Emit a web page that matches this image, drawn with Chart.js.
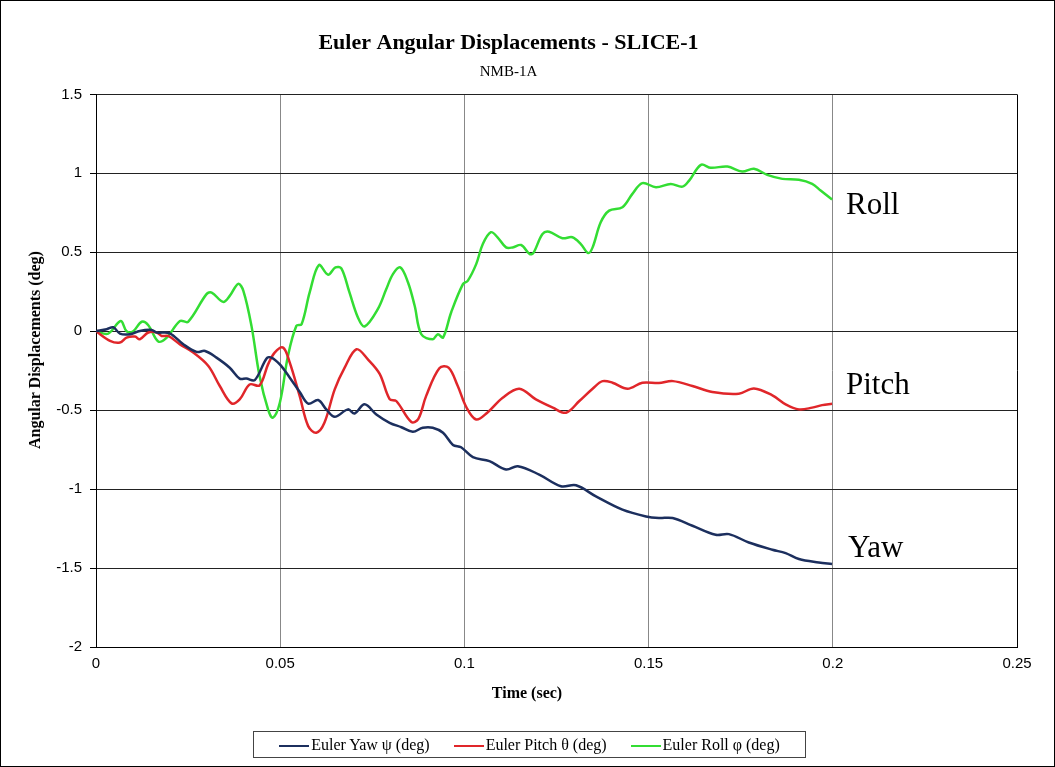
<!DOCTYPE html>
<html>
<head>
<meta charset="utf-8">
<script src="https://cdn.jsdelivr.net/npm/chart.js@4.4.1/dist/chart.umd.min.js"></script>
<style>
  body { margin: 0; background: #fff; }
  #wrap { position: relative; width: 1055px; height: 767px; }
  #frame { position: absolute; left: 0; top: 0; width: 1053px; height: 765px; border: 1px solid #000; pointer-events: none; }
  .tag { position: absolute; font-family: "Liberation Serif", "Times New Roman", serif; font-size: 31px; line-height: 31px; color: #000; }
  .axt { position: absolute; font-family: "Liberation Serif", "Times New Roman", serif; font-weight: bold; font-size: 16px; line-height: 18px; color: #000; white-space: nowrap; }
  #legend { position: absolute; left: 253px; top: 731px; width: 551px; height: 25px; border: 1px solid #444;
            display: flex; justify-content: center; align-items: center; gap: 24px;
            font-family: "Liberation Serif", "Times New Roman", serif; font-size: 16px; }
  #legend span.ln { display: inline-block; width: 30px; height: 2px; vertical-align: middle; margin-right: 2px; }
</style>
</head>
<body>
<div id="wrap">
  <canvas id="myChart" width="1055" height="767"></canvas>
  <div class="tag" style="left:846px; top:188px;">Roll</div>
  <div class="tag" style="left:846px; top:368px;">Pitch</div>
  <div class="tag" style="left:848px; top:531px;">Yaw</div>
  <div class="axt" style="left:527px; top:684px; transform:translateX(-50%);">Time (sec)</div>
  <div class="axt" style="left:35px; top:350px; transform:translate(-50%,-50%) rotate(-90deg);">Angular Displacements (deg)</div>
  <div id="legend"></div>
  <div id="frame"></div>
</div>
<script>
// valores (tempo em s, deslocamento em graus)
const yawT = [0, 0.0029, 0.0047, 0.0065, 0.0092, 0.0119, 0.0151, 0.0165, 0.02, 0.0237, 0.0273, 0.0296, 0.0327, 0.0363,
  0.039, 0.0408, 0.0431, 0.0463, 0.0476, 0.0499, 0.0526, 0.0553, 0.0576, 0.0603, 0.0625, 0.0648, 0.0684, 0.0702, 0.0729,
  0.0761, 0.0797, 0.0829, 0.086, 0.0887, 0.0914, 0.0942, 0.0969, 0.0991, 0.1023, 0.1068, 0.1113, 0.1145, 0.1203, 0.1262,
  0.1303, 0.1357, 0.1429, 0.1493, 0.1528, 0.1565, 0.1619, 0.1682, 0.1718, 0.1772, 0.1836, 0.1872, 0.1908, 0.1962, 0.1998];
const yawV = [0, 0.013, 0.025, -0.015, -0.019, 0.002, 0.008, -0.008, -0.013, -0.083, -0.131, -0.125, -0.167, -0.231,
  -0.30, -0.30, -0.309, -0.173, -0.167, -0.21, -0.294, -0.385, -0.459, -0.436, -0.495, -0.542, -0.495, -0.521, -0.463,
  -0.527, -0.58, -0.608, -0.637, -0.611, -0.611, -0.643, -0.72, -0.735, -0.797, -0.823, -0.876, -0.855, -0.908, -0.982,
  -0.976, -1.046, -1.13, -1.173, -1.183, -1.183, -1.232, -1.289, -1.285, -1.338, -1.384, -1.405, -1.443, -1.465, -1.475];

const pitchT = [0, 0.0038, 0.0065, 0.0083, 0.0106, 0.0119, 0.0142, 0.0165, 0.0178, 0.0196, 0.0228, 0.0264, 0.0305, 0.0336,
  0.0368, 0.039, 0.0417, 0.0444, 0.0467, 0.0485, 0.0508, 0.0526, 0.0553, 0.0576, 0.0598, 0.062, 0.0648, 0.0675, 0.0707,
  0.0738, 0.077, 0.0797, 0.0815, 0.0856, 0.0875, 0.0896, 0.0932, 0.0957, 0.0982, 0.1005, 0.1032, 0.1062, 0.1104, 0.1149,
  0.1194, 0.124, 0.1276, 0.1312, 0.1348, 0.1375, 0.1402, 0.1443, 0.1483, 0.1528, 0.1566, 0.1619, 0.1673, 0.1745, 0.1786,
  0.1836, 0.1872, 0.1908, 0.1944, 0.1971, 0.1998];
const pitchV = [0, -0.061, -0.072, -0.04, -0.034, -0.051, -0.008, -0.008, -0.03, -0.03, -0.083, -0.135, -0.22, -0.347,
  -0.457, -0.432, -0.337, -0.343, -0.21, -0.135, -0.104, -0.199, -0.411, -0.601, -0.643, -0.58, -0.368, -0.231, -0.114,
  -0.178, -0.27, -0.43, -0.442, -0.575, -0.555, -0.411, -0.234, -0.231, -0.347, -0.48, -0.559, -0.516, -0.421, -0.364,
  -0.432, -0.484, -0.516, -0.442, -0.364, -0.316, -0.326, -0.364, -0.326, -0.328, -0.316, -0.347, -0.385, -0.396, -0.362,
  -0.406, -0.463, -0.495, -0.484, -0.468, -0.459];

const rollT = [0, 0.0033, 0.0067, 0.0083, 0.0101, 0.0124, 0.0142, 0.0169, 0.0192, 0.0228, 0.025, 0.03, 0.0314, 0.0345,
  0.0363, 0.0386, 0.04, 0.0422, 0.0444, 0.0467, 0.048, 0.0499, 0.0521, 0.0544, 0.0558, 0.058, 0.0605, 0.063, 0.065,
  0.0666, 0.0688, 0.0711, 0.0729, 0.0765, 0.0788, 0.0806, 0.0826, 0.0847, 0.0865, 0.0883, 0.0914, 0.0928, 0.0942, 0.0964,
  0.0996, 0.1009, 0.1032, 0.105, 0.1072, 0.109, 0.1113, 0.1131, 0.1154, 0.1177, 0.1187, 0.1212, 0.123, 0.1266, 0.1293,
  0.1316, 0.1336, 0.1348, 0.137, 0.1393, 0.1429, 0.1456, 0.1483, 0.152, 0.156, 0.1592, 0.161, 0.1642, 0.1669, 0.1714,
  0.1754, 0.1786, 0.1822, 0.1863, 0.1908, 0.1944, 0.1967, 0.1998];
const rollV = [0, -0.015, 0.065, 0, 0, 0.06, 0.038, -0.065, -0.04, 0.065, 0.06, 0.235, 0.245, 0.186,
  0.224, 0.30, 0.256, 0.034, -0.284, -0.495, -0.548, -0.453, -0.157, 0.034, 0.044, 0.246, 0.419, 0.358, 0.404,
  0.398, 0.246, 0.087, 0.03, 0.14, 0.267, 0.362, 0.404, 0.309, 0.161, -0.019, -0.051, -0.019, -0.04, 0.119,
  0.298, 0.319, 0.425, 0.552, 0.627, 0.595, 0.531, 0.531, 0.546, 0.489, 0.495, 0.616, 0.63, 0.589, 0.595,
  0.552, 0.495, 0.531, 0.69, 0.764, 0.785, 0.87, 0.938, 0.912, 0.933, 0.916, 0.954, 1.054, 1.035, 1.043,
  1.011, 1.029, 0.99, 0.965, 0.959, 0.933, 0.891, 0.834];

const seriesNames = ['Euler Yaw  \u03c8 (deg)', 'Euler Pitch \u03b8 (deg)', 'Euler Roll \u03c6 (deg)'];
const seriesColors = ['#1c2f5e', '#e0262a', '#33dd33'];

function pares(t, v) {
  const out = [];
  for (let i = 0; i < t.length; i++) {
    out.push({ x: t[i], y: v[i] });
  }
  return out;
}

// tira os zeros que sobram (1.0 -> 1, 0.10 -> 0.1)
function rotulo(v) {
  return String(Number(v.toFixed(2)));
}

const serif = '"Liberation Serif", "Times New Roman", serif';
const sans = '"Liberation Sans", Arial, sans-serif';

const conjuntos = [pares(yawT, yawV), pares(pitchT, pitchV), pares(rollT, rollV)].map(function (d, i) {
  return {
    label: seriesNames[i],
    data: d,
    borderColor: seriesColors[i],
    backgroundColor: seriesColors[i],
    borderWidth: 2.5,
    pointRadius: 0,
    tension: 0.35,
    fill: false
  };
});

// legenda em html
const leg = document.getElementById('legend');
seriesNames.forEach(function (n, i) {
  const item = document.createElement('div');
  item.innerHTML = '<span class="ln" style="background:' + seriesColors[i] + '"></span>' + n;
  leg.appendChild(item);
});

const ctx = document.getElementById('myChart');
new Chart(ctx, {
  type: 'line',
  data: { datasets: conjuntos },
  options: {
    responsive: false,
    animation: false,
    layout: { padding: { left: 0, right: 38, top: 0, bottom: 60 } },
    plugins: {
      legend: { display: false },
      tooltip: { enabled: false },
      title: {
        display: true,
        text: 'Euler Angular Displacements - SLICE-1',
        color: '#000',
        font: { family: serif, size: 22, weight: 'bold' },
        padding: { top: 30, bottom: 0 }
      },
      subtitle: {
        display: true,
        text: 'NMB-1A',
        color: '#000',
        font: { family: serif, size: 15 },
        padding: { top: 7, bottom: 13 }
      }
    },
    scales: {
      x: {
        type: 'linear',
        min: 0,
        max: 0.25,
        ticks: { stepSize: 0.05, color: '#000', font: { family: sans, size: 15 }, padding: 8, maxRotation: 0, callback: rotulo },
        grid: {
          color: function (c) { return c.tick && c.tick.value >= 0.25 ? '#000' : '#888'; },
          lineWidth: 1,
          drawTicks: false
        },
        border: { color: '#000', width: 1 },
        afterFit: function (s) { s.height = 60; }
      },
      y: {
        min: -2,
        max: 1.5,
        ticks: { stepSize: 0.5, color: '#000', font: { family: sans, size: 15 }, padding: 8, callback: rotulo },
        grid: { color: '#222', lineWidth: 1, drawTicks: true, tickLength: 6, tickColor: '#000' },
        border: { color: '#000', width: 1 },
        afterFit: function (s) { s.width = 96; }
      }
    }
  }
});
</script>
</body>
</html>
